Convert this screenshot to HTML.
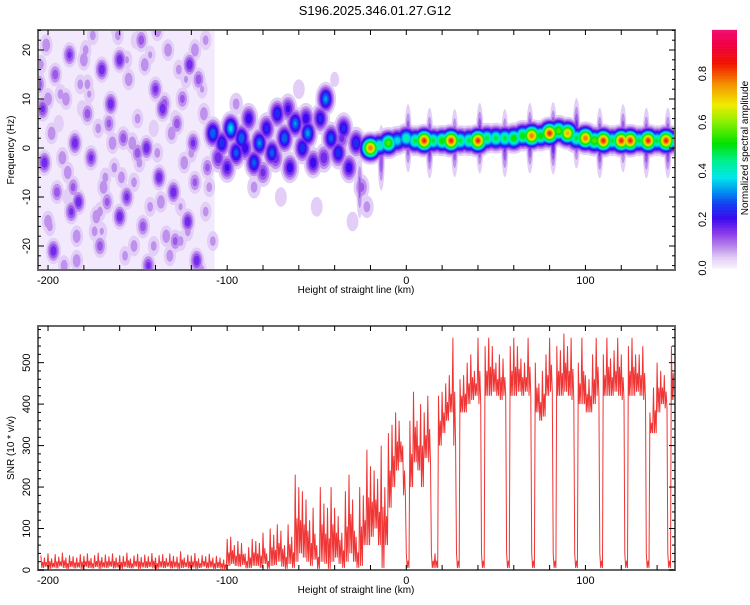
<!DOCTYPE html>
<html><head><meta charset="utf-8"><style>
body{margin:0;background:#fff;}
svg text{font-family:"Liberation Sans",sans-serif;}
</style></head><body>
<svg id="s" width="750" height="600" xmlns="http://www.w3.org/2000/svg">
<text x="375" y="15" text-anchor="middle" font-size="13">S196.2025.346.01.27.G12</text>
<defs>
<clipPath id="c1"><rect x="38" y="30" width="637" height="240"/></clipPath>
<clipPath id="c2"><rect x="38" y="326" width="637" height="244"/></clipPath>
</defs>
<g id="heat" clip-path="url(#c1)"></g>
<g id="snr" clip-path="url(#c2)"></g>
<g id="axes"></g>
</svg>
<script>
// ---- data ----
const noiseH=[-201,-188,-175,-160,-148,-133,-121,-112,-196,-182,-170,-155,-140,-127,-116,-203,-190,-178,-165,-150,-136,-125,-113,-198,-185,-172,-158,-145,-131,-119,-202,-189,-176,-163,-150,-138,-124,-111,-195,-183,-169,-156,-143,-130,-118,-200,-187,-174,-160,-147,-134,-122,-112,-197,-184,-171,-157,-144,-129,-117,-193,-180,-166,-152,-139,-126,-205,-192,-179,-167,-153,-141,-128,-115,-199,-186,-173,-161,-146,-135,-120,
-204,-194,-184,-177,-168,-162,-152,-143,-137,-129,-122,-114,-191,-181,-171,-164,-156,-149,-141,-132,-123,-110,-200,-189,-178,-170,-159,-151,-139,-126,-118,-108];
const noiseF=[21,19,23,18,22,20,17,22,15,13,16,14,12,16,14,8,10,7,9,6,8,10,7,3,1,4,2,0,3,1,-3,-5,-2,-4,-1,-6,-3,-4,-9,-11,-8,-10,-12,-9,-7,-15,-13,-17,-14,-16,-18,-15,-13,-21,-23,-20,-22,-24,-19,-23,11,18,5,-7,24,-19,13,-2,20,-11,1,-20,5,-25,-16,-8,-14,23,17,9,-1,
17,5,-18,11,-6,24,-20,19,-11,6,-17,12,-24,8,-13,1,18,-3,4,-22,14,-8,10,-10,13,-17,-6,22,-1,-12,20,-19];
const noiseA=[.12,.18,.1,.2,.15,.12,.2,.1,.15,.1,.2,.12,.18,.1,.15,.18,.12,.15,.2,.1,.2,.14,.12,.12,.2,.1,.15,.2,.12,.18,.2,.12,.18,.1,.15,.2,.12,.14,.15,.2,.12,.18,.1,.2,.14,.12,.18,.1,.2,.15,.12,.2,.1,.2,.12,.15,.1,.18,.14,.2,.1,.12,.14,.1,.12,.1,.15,.12,.1,.14,.12,.1,.15,.12,.1,.14,.12,.1,.12,.15,.1,
.1,.08,.12,.09,.1,.08,.11,.09,.12,.08,.1,.09,.11,.08,.1,.12,.09,.1,.08,.11,.09,.1,.12,.08,.1,.09,.11,.08,.1,.09,.12,.1];
const midH=[-108,-103,-98,-95,-92,-88,-85,-82,-78,-75,-72,-68,-65,-62,-58,-55,-52,-48,-45,-42,-38,-35,-32,-28,-25,-85,-70,-60,-95,-50,-40,-30,-105,-100,-90,-80,-73,-66,-56,-46,-36,-22];
const midF=[3,1,4,-1,2,6,-3,1,4,-1,7,2,-4,5,0,3,-3,6,10,2,-1,4,-4,1,-8,-8,-10,12,9,-12,14,-15,-2,-4,0,-5,-2,8,6,-2,2,-12];
const midA=[.32,.28,.38,.3,.32,.24,.3,.33,.26,.3,.28,.32,.24,.33,.28,.34,.24,.26,.34,.3,.28,.26,.24,.28,.14,.1,.08,.08,.1,.08,.06,.08,.2,.22,.24,.18,.2,.22,.24,.2,.18,.1];
const ridgeH=[-20,-15,-10,-5,0,5,10,15,20,25,30,35,40,45,50,55,60,65,70,75,80,85,90,95,100,105,110,115,120,125,130,135,140,145,150];
const ridgeF=[0,0.5,1,1.5,2,1.5,1.5,1.5,1.5,1.5,1.5,1.5,1.5,2,2,2,2,2.5,2.5,2.5,3,3.5,3,2,2,1.5,1.5,1.5,1.5,1.5,1.5,1.5,1.5,1.5,1.5];
const ridgeA=[.8,.45,.6,.4,.45,.5,.85,.5,.55,.85,.5,.5,.85,.5,.5,.5,.55,.55,.8,.55,.85,.6,.75,.5,.8,.6,.85,.5,.85,.85,.5,.85,.5,.85,.5];
const streakH=[-26,-14,1,13,27,41,55,69,82,95,108,121,134,146];
const streakF=[-8,-2,2,1,1,2,1,2,2,3,1,2,1,1];
const streakA=[.14,.16,.18,.2,.18,.2,.18,.2,.22,.2,.2,.18,.2,.2];
const snrStart=-204, snrStep=2;
const snrMax=[35,30,40,28,38,32,42,30,36,33,30,38,34,40,29,36,42,31,37,33,40,30,36,34,42,28,35,39,31,37,33,41,30,36,38,29,40,34,32,45,30,37,35,41,28,36,33,39,30,34,
30,25,75,80,60,70,65,40,55,75,
70,65,90,40,100,85,110,95,60,110,
80,230,200,190,170,120,150,60,200,160,
150,200,150,130,90,190,230,170,80,200,
180,290,250,240,220,300,200,330,350,380,
360,300,40,360,430,360,400,380,420,40,
40,420,430,450,470,560,40,460,470,500,
520,480,560,40,540,560,540,500,520,510,
40,540,560,540,510,500,560,40,500,450,
480,520,560,40,540,530,570,540,560,40,
500,560,470,460,520,560,40,520,560,510,
530,560,520,40,540,560,520,520,540,40,
380,440,500,480,470,40,540,560];
const snrMin=[5,8,3,6,4,9,5,3,7,4,6,3,8,5,4,7,3,6,5,8,4,6,3,7,5,4,8,3,6,5,7,4,3,6,5,8,4,6,3,5,7,4,6,3,5,8,4,6,3,5,
3,2,10,15,10,8,12,4,5,10,
10,5,15,3,10,12,20,8,3,15,
5,20,40,30,20,10,25,3,20,15,
3,20,30,15,5,20,40,20,5,10,
60,60,80,100,60,5,60,150,200,240,
260,180,5,200,260,240,200,270,260,5,
5,300,330,360,380,300,5,380,380,400,
410,420,400,5,420,420,430,420,410,420,
5,420,420,430,420,430,420,5,380,360,
370,420,430,5,420,420,430,420,410,5,
400,400,380,380,400,420,5,420,420,420,
430,420,410,5,420,420,430,420,410,5,
330,330,380,400,390,5,410,410];
const xTicks=[-200,-100,0,100];
const fTicks=[-20,-10,0,10,20];
const snrTicks=[0,100,200,300,400,500];
const cbTicks=[0.0,0.2,0.4,0.6,0.8];
// ---- scales ----
const X0=38,X1=675,H0=-205.6,H1=150;
const xs=h=>X0+(h-H0)/(H1-H0)*(X1-X0);
const fy=f=>148-f*4.9;
const sy=v=>570-v*0.4147;
const cy=v=>268-v*243;
const NS='http://www.w3.org/2000/svg';
function mk(t,a,p){const e=document.createElementNS(NS,t);for(const k in a)e.setAttribute(k,a[k]);(p||document.getElementById('axes')).appendChild(e);return e;}
const stops=[[0,[246,240,252]],[.04,[226,206,246]],[.09,[180,130,234]],[.14,[140,60,232]],[.2,[60,10,240]],[.26,[20,60,240]],[.31,[0,140,240]],[.37,[0,230,235]],[.44,[0,240,140]],[.51,[0,225,0]],[.6,[140,240,0]],[.67,[240,235,0]],[.75,[245,150,0]],[.84,[240,20,0]],[.92,[240,0,70]],[1,[240,20,130]]];
function col(v){for(let i=1;i<stops.length;i++){if(v<=stops[i][0]){const a=stops[i-1],b=stops[i],t=(v-a[0])/(b[0]-a[0]);return 'rgb('+a[1].map((c,j)=>Math.round(c+(b[1][j]-c)*t)).join(',')+')';}}return 'rgb(240,20,130)';}
// ---- heatmap ----
const heat=document.getElementById('heat');
mk('rect',{x:X0,y:30,width:xs(-107)-X0,height:240,fill:'#f2eafc'},heat);
const ell=[];
function addBlobs(H,F,A,sx,sf){for(let i=0;i<H.length;i++){for(let L=0.04;L<A[i];L+=0.04){const r=Math.sqrt(2*Math.log(A[i]/L));ell.push([L,H[i],F[i],sx*r,sf*r]);}}}
addBlobs(noiseH,noiseF,noiseA,2.4,1.5);
addBlobs(midH,midF,midA,2.8,1.7);
addBlobs(streakH,streakF,streakA,1.2,4.0);
addBlobs(ridgeH,ridgeF,ridgeA,3.4,1.4);
ell.sort((a,b)=>a[0]-b[0]);
ell.forEach(e=>{const el=mk('ellipse',{cx:xs(e[1]),cy:fy(e[2]),rx:e[3]*1.79,ry:e[4]*4.9,fill:col(e[0])},heat);

});
// ---- snr line ----
const p=[];
snrMax.forEach((v,i)=>{const x=xs(snrStart+i*snrStep);p.push(x.toFixed(1)+','+sy(v).toFixed(1));p.push((x+0.9).toFixed(1)+','+sy(snrMin[i]).toFixed(1));p.push((x+1.8).toFixed(1)+','+sy((v+snrMin[i])/2).toFixed(1));p.push((x+2.7).toFixed(1)+','+sy(snrMin[i]).toFixed(1));});
const ln=mk('polyline',{points:p.join(' '),fill:'none',stroke:'#f03535','stroke-width':1},document.getElementById('snr'));


// ---- axes ----
function frame(y0,y1,name){const r=mk('rect',{x:X0,y:y0,width:X1-X0,height:y1-y0,fill:'none',stroke:'#666','stroke-width':2});}
frame(30,270,'top-plot-frame');frame(326,570,'bottom-plot-frame');
function xaxis(y0,y1){for(let h=-200;h<=150;h+=20){const x=xs(h);mk('line',{x1:x,y1:y1,x2:x,y2:y1-5,stroke:'#000'});mk('line',{x1:x,y1:y0,x2:x,y2:y0+5,stroke:'#000'});}
xTicks.forEach(h=>{const t=mk('text',{x:xs(h),y:y1+14,'text-anchor':'middle','font-size':11});t.textContent=h;});
const t=mk('text',{x:356,y:y1+23,'text-anchor':'middle','font-size':10});t.textContent='Height of straight line (km)';}
xaxis(30,270);xaxis(326,570);
for(let f=-24;f<=24;f+=2){const y=fy(f);if(y<30||y>270)continue;const L=f%10===0?6:3;mk('line',{x1:X0,y1:y,x2:X0+L,y2:y,stroke:'#000'});mk('line',{x1:X1,y1:y,x2:X1-L,y2:y,stroke:'#000'});}
fTicks.forEach(f=>{const t=mk('text',{x:30,y:fy(f),'text-anchor':'middle','font-size':11,transform:`rotate(-90 30 ${fy(f)})`});t.textContent=f;});
let t=mk('text',{x:14,y:150,'text-anchor':'middle','font-size':10,transform:'rotate(-90 14 150)'});t.textContent='Frequency (Hz)';
for(let v=0;v<=580;v+=20){const y=sy(v);const L=v%100===0?6:3;mk('line',{x1:X0,y1:y,x2:X0+L,y2:y,stroke:'#000'});mk('line',{x1:X1,y1:y,x2:X1-L,y2:y,stroke:'#000'});}
snrTicks.forEach(v=>{const t=mk('text',{x:30,y:sy(v),'text-anchor':'middle','font-size':11,transform:`rotate(-90 30 ${sy(v)})`});t.textContent=v;});
t=mk('text',{x:14,y:448,'text-anchor':'middle','font-size':10,transform:'rotate(-90 14 448)'});t.textContent='SNR (10 * v/v)';
// ---- colorbar ----
const cbg=mk('g',{});
for(let v=0;v<0.978;v+=0.005){mk('rect',{x:712,y:cy(v+0.005),width:25,height:1.5,fill:col(v)},cbg);}
cbTicks.forEach(v=>{const t=mk('text',{x:706,y:cy(v),'text-anchor':'middle','font-size':11,transform:`rotate(-90 706 ${cy(v)})`});t.textContent=v.toFixed(1);});
t=mk('text',{x:748,y:148,'text-anchor':'middle','font-size':10,transform:'rotate(-90 748 148)'});t.textContent='Normalized spectral amplitude';
</script>
</body></html>
